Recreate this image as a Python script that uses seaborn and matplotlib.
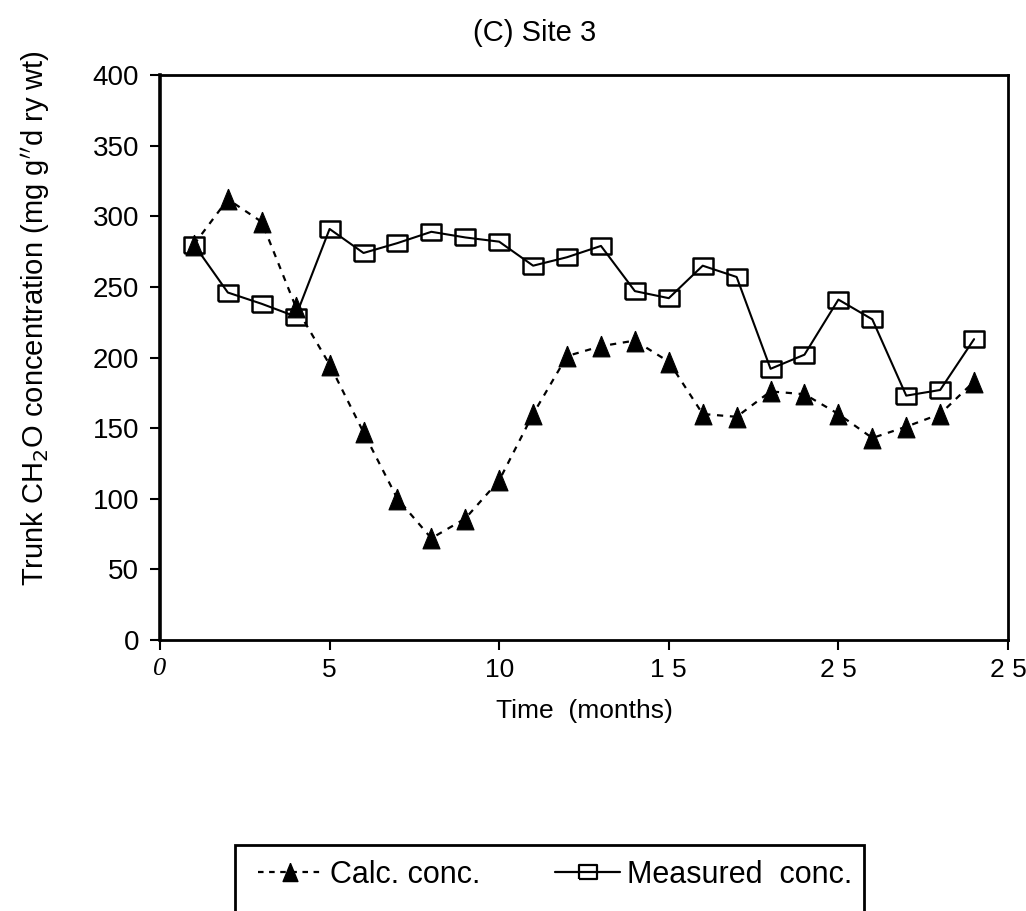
import matplotlib
matplotlib.use("Agg")
import matplotlib.pyplot as plt
from matplotlib.patches import Rectangle
from matplotlib.lines import Line2D
import seaborn as sns
import pandas as pd

months = list(range(1, 25))
calc_conc = [280, 312, 296, 236, 195, 147, 100, 72, 86, 113, 160, 201,
             208, 212, 197, 160, 158, 176, 174, 160, 143, 151, 160, 183]
measured_conc = [280, 246, 238, 229, 291, 274, 281, 289, 285, 282, 265, 271,
                 279, 247, 242, 265, 257, 192, 202, 241, 227, 173, 177, 213]
x_ticks = [0, 5, 10, 15, 20, 25]
x_tick_labels = ["0", "5", "10", "1 5", "2 5", "2 5"]
y_ticks = [0, 50, 100, 150, 200, 250, 300, 350, 400]
series_names = ["Calc. conc.", "Measured  conc."]

sns.set_theme(style="ticks")
plt.rcParams['font.family'] = ['Liberation Sans', 'DejaVu Sans']
plt.rcParams['text.color'] = 'black'
plt.rcParams['axes.labelcolor'] = 'black'
plt.rcParams['xtick.color'] = 'black'
plt.rcParams['ytick.color'] = 'black'

fig = plt.figure(figsize=(10.26, 9.11), dpi=100)
ax = fig.add_axes([160/1026, 1-640/911, 848/1026, 565/911])

df = pd.DataFrame({"month": months, "calc": calc_conc, "measured": measured_conc})

rect_marker = [(-1.27, -1), (1.27, -1), (1.27, 1), (-1.27, 1), (-1.27, -1)]
tri_marker = [(0, 1), (-0.82, -1), (0.82, -1), (0, 1)]

sns.lineplot(data=df, x="month", y="measured", ax=ax, color="black",
             linewidth=1.5, marker=rect_marker, markersize=14.5,
             markerfacecolor="none", markeredgecolor="black",
             markeredgewidth=1.8, zorder=3)
sns.lineplot(data=df, x="month", y="calc", ax=ax, color="black",
             linewidth=1.6, linestyle=(0, (2.8, 3)), marker=tri_marker,
             markersize=15, markerfacecolor="black", markeredgecolor="black",
             zorder=4)

ax.set_xlim(0, 25)
ax.set_ylim(0, 400)
ax.set_xticks(x_ticks)
ax.set_xticklabels(x_tick_labels)
ax.set_yticks(y_ticks)
ax.set_yticklabels([str(v) for v in y_ticks])
ax.tick_params(axis="both", direction="out", length=7, width=1.5, color="black",
               labelcolor="black")
ax.tick_params(axis="y", labelsize=20, pad=8)
ax.tick_params(axis="x", labelsize=19, pad=6)
ax.get_xticklabels()[0].set_fontstyle("italic")
ax.get_xticklabels()[0].set_family(['Liberation Serif', 'DejaVu Serif'])

for side in ["left", "bottom", "top", "right"]:
    ax.spines[side].set_visible(True)
    ax.spines[side].set_color("black")
    ax.spines[side].set_linewidth(2)
ax.spines["left"].set_linewidth(2.6)

ax.set_xlabel("Time  (months)", fontsize=19, labelpad=12, color="black")
ax.set_ylabel("Trunk CH$_2$O concentration (mg g$^{\\prime}$$^{\\prime}$d ry wt)",
              fontsize=21, color="black")
ax.yaxis.set_label_coords((52 - 160) / 848, (640 - 318) / 565)
ax.grid(False)

fig.text(535/1026, 1-33/911, "(C) Site 3", ha="center", va="center", fontsize=21,
         color="black")

# legend
fig.patches.append(Rectangle((235/1026, -0.05), (864-235)/1026, (1-845/911)+0.05,
                             transform=fig.transFigure, fill=False,
                             edgecolor="black", linewidth=2))
h1 = Line2D([], [], color="black", linestyle=(0, (2.5, 2.5)), linewidth=1.6,
            marker=tri_marker, markersize=13, markerfacecolor="black")
h2 = Line2D([], [], color="black", linestyle="-", linewidth=1.6,
            marker=rect_marker, markersize=13, markerfacecolor="none",
            markeredgewidth=1.6)
fig.legend([h1, h2], series_names, loc="center left",
           bbox_to_anchor=(237/1026, 1-875/911), ncol=2, frameon=False,
           fontsize=22, handlelength=2.1, columnspacing=2.45, handletextpad=0.25,
           borderpad=0.2)

fig.savefig("out.png", dpi=100, facecolor="white")
